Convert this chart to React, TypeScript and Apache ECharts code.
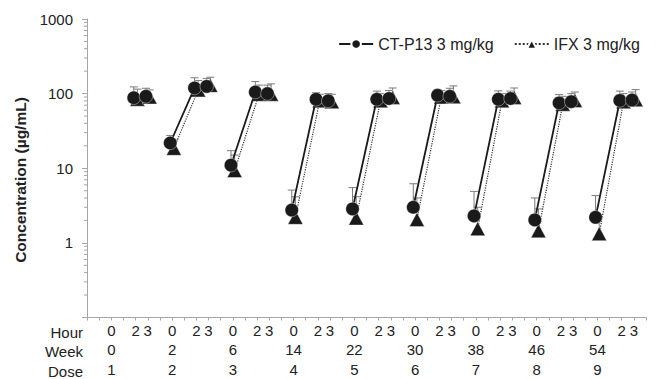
import React, { useEffect, useRef } from 'react';
import * as echarts from 'echarts';

// ---- data ----
const weeks = [0, 2, 6, 14, 22, 30, 38, 46, 54];
const doses = [1, 2, 3, 4, 5, 6, 7, 8, 9];
const hourLabels = ['0', '2', '3'];
const hourSlots = [2, 4, 5]; // axis unit of each sampling hour inside a dose block
const blockWidth = 5;
const rowTitles = ['Hour', 'Week', 'Dose'];
const yTickLabels = [1, 10, 100, 1000];
const minorTickValues = [
  0.2, 0.3, 0.4, 0.5, 0.6, 0.7, 0.8, 0.9,
  2, 3, 4, 5, 6, 7, 8, 9,
  20, 30, 40, 50, 60, 70, 80, 90,
  200, 300, 400, 500, 600, 700, 800, 900,
];

// CT-P13 3 mg/kg (mean and upper error)
const ctTrough = [null, 21.8, 11, 2.75, 2.85, 3.0, 2.3, 2.03, 2.2];
const ctTroughErr = [null, 27.5, 17.2, 5.1, 5.5, 6.2, 4.9, 4.0, 4.3];
const ctH2 = [88, 119, 105, 84, 84, 95, 84, 75, 81];
const ctH2Err = [123, 163, 145, 103, 108, 114, 109, 97, 108];
const ctH3 = [92, 125, 100, 80, 86, 92, 86, 78, 82];
const ctH3Err = [118, 160, 130, 100, 110, 118, 108, 100, 105];

// IFX 3 mg/kg
const ifxTrough = [null, 18.5, 9.3, 2.2, 2.15, 2.05, 1.55, 1.45, 1.33];
const ifxTroughErr = [null, 24, 15, 4.15, 4.15, 4.0, 3.0, 2.85, 2.4];
const ifxH2 = [84, 112, 98, 80, 80, 90, 80, 72, 78];
const ifxH2Err = [115, 150, 130, 98, 100, 110, 100, 92, 100];
const ifxH3 = [90, 129, 98, 78, 89, 91, 89, 81, 83];
const ifxH3Err = [112, 166, 135, 98, 119, 127, 119, 105, 113];

const FONT = '"Liberation Sans", Arial, sans-serif';

function buildLine(trough: (number | null)[], h2: number[], h3: number[], shift: number) {
  const out: any[] = [];
  doses.forEach((_, d) => {
    const base = d * blockWidth;
    if (trough[d] != null) out.push([base + hourSlots[0] + shift, trough[d]]);
    out.push([base + hourSlots[1] + shift, h2[d]]);
    out.push([base + hourSlots[2] + shift, h3[d]]);
    out.push([base + hourSlots[2] + 0.5, '-']);
  });
  return out;
}

function buildErr(
  trough: (number | null)[], troughErr: (number | null)[],
  h2: number[], h2Err: number[], h3: number[], h3Err: number[], shift: number
) {
  const out: any[] = [];
  doses.forEach((_, d) => {
    const base = d * blockWidth;
    if (trough[d] != null) out.push([base + hourSlots[0] + shift, trough[d], troughErr[d]]);
    out.push([base + hourSlots[1] + shift, h2[d], h2Err[d]]);
    out.push([base + hourSlots[2] + shift, h3[d], h3Err[d]]);
  });
  return out;
}

const errRender = (params: any, api: any) => {
  const x = api.value(0);
  const p1 = api.coord([x, api.value(1)]);
  const p2 = api.coord([x, api.value(2)]);
  const st = { stroke: '#7a7a7a', lineWidth: 1 };
  return {
    type: 'group',
    children: [
      { type: 'line', shape: { x1: p1[0], y1: p1[1], x2: p2[0], y2: p2[1] }, style: st },
      { type: 'line', shape: { x1: p2[0] - 4, y1: p2[1], x2: p2[0] + 4, y2: p2[1] }, style: st },
    ],
  };
};

export default function App() {
  const ref = useRef<HTMLDivElement>(null);
  useEffect(() => {
    document.body.style.margin = '0';
    const chart = echarts.init(ref.current!, null, { renderer: 'svg' });
    const ctShift = -0.15;
    const ifxShift = 0.15;
    const maxX = doses.length * blockWidth + 1;
    chart.setOption({
      animation: false,
      textStyle: { fontFamily: FONT },
      grid: { left: 87, right: 13, top: 19, bottom: 57 },
      legend: {
        data: ['CT-P13 3 mg/kg', 'IFX 3 mg/kg'],
        top: 31,
        right: 14,
        itemWidth: 34,
        itemHeight: 12,
        itemGap: 20,
        textStyle: { fontSize: 16, color: '#222', fontFamily: FONT },
      },
      xAxis: {
        type: 'value',
        min: 0,
        max: maxX,
        interval: 1,
        splitLine: { show: false },
        axisLine: { lineStyle: { color: '#a6a6a6', width: 1 } },
        axisTick: { show: true, length: 3, lineStyle: { color: '#a6a6a6' } },
        axisLabel: {
          margin: 3,
          fontSize: 15,
          lineHeight: 19.5,
          color: '#222',
          fontFamily: FONT,
          formatter: (v: number) => {
            const d = Math.floor((v - 1) / blockWidth);
            if (d < 0 || d >= doses.length) return '';
            const slot = v - d * blockWidth;
            const h = hourSlots.indexOf(slot);
            if (h < 0) return '';
            if (h === 0) return `${hourLabels[0]}\n${weeks[d]}\n${doses[d]}`;
            return hourLabels[h];
          },
        },
      },
      yAxis: {
        type: 'log',
        logBase: 10,
        min: 0.1,
        max: 1000,
        splitLine: { show: false },
        axisLine: { show: true, lineStyle: { color: '#a6a6a6', width: 1 } },
        axisTick: { show: true, length: 5, lineStyle: { color: '#a6a6a6' } },
        axisLabel: {
          margin: 14,
          fontSize: 15,
          color: '#222',
          fontFamily: FONT,
          formatter: (v: number) => {
            const r = Math.round(v * 1000) / 1000;
            return yTickLabels.includes(r) ? String(r) : '';
          },
        },
      },
      graphic: [
        {
          type: 'text',
          x: 20,
          y: 180,
          rotation: Math.PI / 2,
          style: {
            text: 'Concentration (µg/mL)',
            font: `bold 15.5px ${FONT}`,
            fill: '#222',
            align: 'center',
            verticalAlign: 'middle',
          },
        },
        ...rowTitles.map((t, i) => ({
          type: 'text',
          x: 83,
          y: 332 + i * 19.5,
          style: {
            text: t,
            font: `15px ${FONT}`,
            fill: '#222',
            align: 'right',
            verticalAlign: 'middle',
          },
        })),
      ],
      series: [
        {
          type: 'custom',
          name: 'minorTicks',
          silent: true,
          clip: false,
          data: minorTickValues.map((v) => [0, v]),
          encode: { x: 0, y: 1 },
          renderItem: (params: any, api: any) => {
            const p = api.coord([0, api.value(1)]);
            return {
              type: 'line',
              shape: { x1: p[0] - 3, y1: p[1], x2: p[0], y2: p[1] },
              style: { stroke: '#a6a6a6', lineWidth: 1 },
            };
          },
          z: 1,
        },
        {
          type: 'custom',
          name: 'ctErr',
          silent: true,
          data: buildErr(ctTrough, ctTroughErr, ctH2, ctH2Err, ctH3, ctH3Err, ctShift),
          encode: { x: 0, y: [1, 2] },
          renderItem: errRender,
          z: 1,
        },
        {
          type: 'custom',
          name: 'ifxErr',
          silent: true,
          data: buildErr(ifxTrough, ifxTroughErr, ifxH2, ifxH2Err, ifxH3, ifxH3Err, ifxShift),
          encode: { x: 0, y: [1, 2] },
          renderItem: errRender,
          z: 1,
        },
        {
          type: 'line',
          name: 'IFX 3 mg/kg',
          data: buildLine(ifxTrough, ifxH2, ifxH3, ifxShift),
          connectNulls: false,
          symbol: 'triangle',
          symbolSize: [15, 14],
          itemStyle: { color: '#1a1a1a', borderColor: '#ffffff', borderWidth: 0.4 },
          lineStyle: { color: '#333', width: 1.2, type: 'dotted' },
          z: 3,
        },
        {
          type: 'line',
          name: 'CT-P13 3 mg/kg',
          data: buildLine(ctTrough, ctH2, ctH3, ctShift),
          connectNulls: false,
          symbol: 'circle',
          symbolSize: 13.5,
          itemStyle: { color: '#1a1a1a', borderColor: '#ffffff', borderWidth: 0.4 },
          lineStyle: { color: '#1a1a1a', width: 1.8, type: 'solid' },
          z: 4,
        },
      ],
    });
    return () => chart.dispose();
  }, []);
  return <div ref={ref} style={{ width: 659, height: 379 }} />;
}
